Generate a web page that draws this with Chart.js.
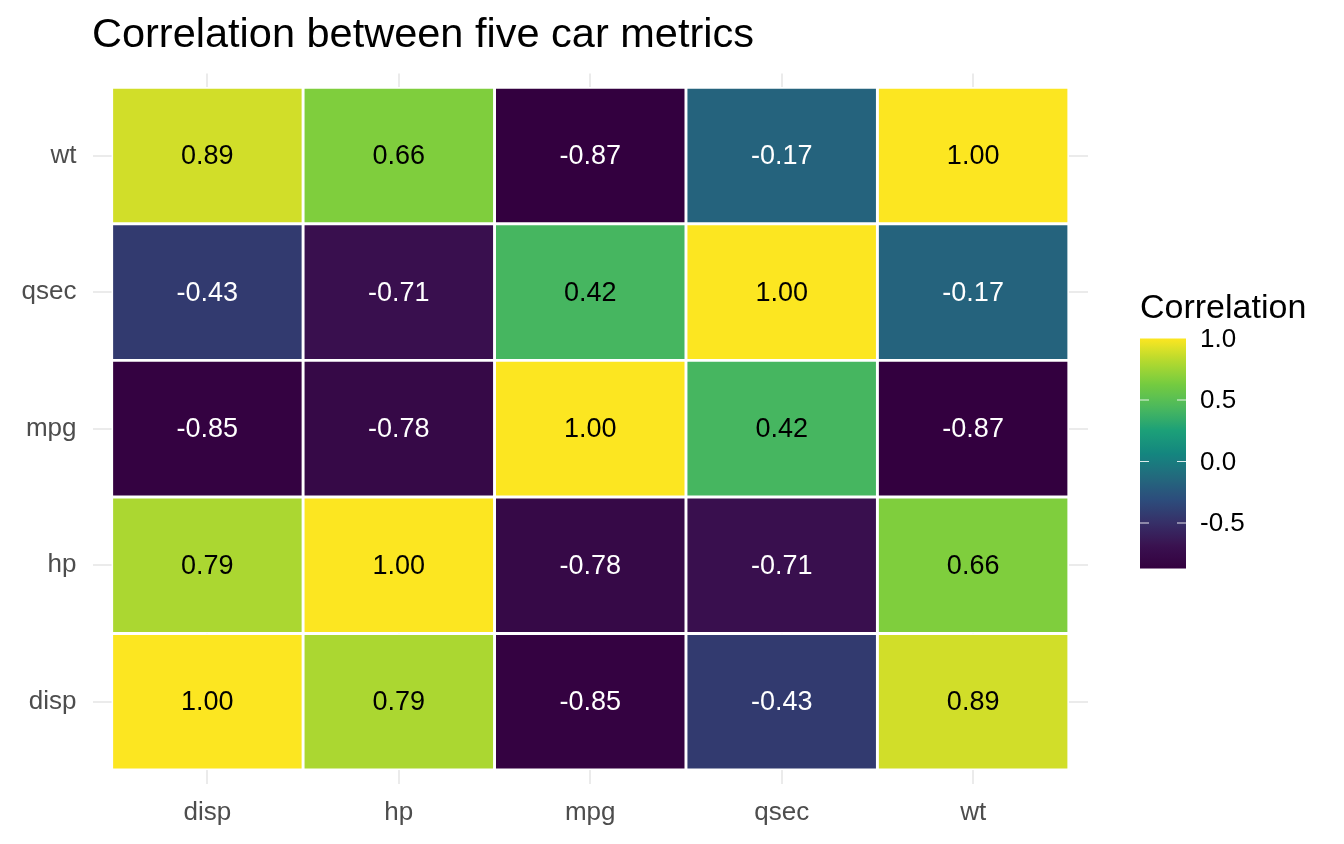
<!DOCTYPE html>
<html>
<head>
<meta charset="utf-8">
<title>Correlation between five car metrics</title>
<script src="https://cdn.jsdelivr.net/npm/chart.js@4.4.1/dist/chart.umd.min.js"></script>
<style>
  html, body { margin: 0; padding: 0; background: #ffffff; }
  #wrap { position: relative; width: 1344px; height: 844px; }
</style>
</head>
<body>
<div id="wrap"><canvas id="heat" width="1344" height="844"></canvas></div>
<script>
// variables, bottom row first (y) and left column first (x)
const metrics = ["disp", "hp", "mpg", "qsec", "wt"];

// correlation of each metric (row) with disp, hp, mpg, qsec, wt (columns)
const corrDisp = [1.00, 0.79, -0.85, -0.43, 0.89];
const corrHp   = [0.79, 1.00, -0.78, -0.71, 0.66];
const corrMpg  = [-0.85, -0.78, 1.00, 0.42, -0.87];
const corrQsec = [-0.43, -0.71, 0.42, 1.00, -0.17];
const corrWt   = [0.89, 0.66, -0.87, -0.17, 1.00];
const corrRows = [corrDisp, corrHp, corrMpg, corrQsec, corrWt];

const legendTicks = [-0.5, 0.0, 0.5, 1.0];

const FONT = "'Liberation Sans', Arial, Helvetica, sans-serif";

// viridis-like palette, as it appears in the picture
const palette = [
  [0.0, "#33003f"], [0.1, "#3a1250"], [0.2, "#363068"], [0.3, "#2c4d7c"],
  [0.4, "#226a7d"], [0.5, "#14867f"], [0.6, "#1ca078"], [0.7, "#4bb85d"],
  [0.8, "#74cb40"], [0.9, "#b3d92f"], [1.0, "#fce621"]
];
const allVals = corrRows.flat();
const cMin = Math.min(...allVals);
const cMax = Math.max(...allVals);

function hexRgb(h) {
  return [parseInt(h.slice(1, 3), 16), parseInt(h.slice(3, 5), 16), parseInt(h.slice(5, 7), 16)];
}
function colorAt(t) {
  t = Math.max(0, Math.min(1, t));
  for (let i = 1; i < palette.length; i++) {
    if (t <= palette[i][0]) {
      const [t0, c0] = palette[i - 1];
      const [t1, c1] = palette[i];
      const f = (t - t0) / (t1 - t0);
      const a = hexRgb(c0), b = hexRgb(c1);
      const m = a.map((v, k) => Math.round(v + (b[k] - v) * f));
      return "rgb(" + m.join(",") + ")";
    }
  }
  return palette[palette.length - 1][1];
}
function colorFor(v) { return colorAt((v - cMin) / (cMax - cMin)); }

const datasets = metrics.map((rowName, ri) => ({
  label: rowName,
  data: metrics.map((colName, ci) => ({ x: ci + 1, y: [ri + 0.5, ri + 1.5], v: corrRows[ri][ci] })),
  backgroundColor: corrRows[ri].map(colorFor),
  borderColor: "#ffffff",
  borderWidth: 1.8,
  borderSkipped: false,
  barPercentage: 1,
  categoryPercentage: 1,
  grouped: false
}));

// cell labels
const cellText = {
  id: "cellText",
  afterDatasetsDraw(chart) {
    const ctx = chart.ctx;
    ctx.save();
    ctx.font = "27px " + FONT;
    ctx.textAlign = "center";
    ctx.textBaseline = "middle";
    chart.data.datasets.forEach((ds, di) => {
      chart.getDatasetMeta(di).data.forEach((el, i) => {
        const v = ds.data[i].v;
        ctx.fillStyle = v < 0 ? "#ffffff" : "#000000";
        ctx.fillText(v.toFixed(2), el.x, (el.y + el.base) / 2 + 1);
      });
    });
    ctx.restore();
  }
};

// title and colour bar legend
const extras = {
  id: "extras",
  afterDraw(chart) {
    const ctx = chart.ctx;
    ctx.save();
    ctx.fillStyle = "#000000";
    ctx.textAlign = "left";
    ctx.textBaseline = "alphabetic";
    ctx.font = "41.5px " + FONT;
    ctx.fillText("Correlation between five car metrics", 92, 47);

    ctx.font = "34px " + FONT;
    ctx.fillText("Correlation", 1140, 318);

    const bx = 1140, bw = 46, pxPerUnit = 123;
    const yOf = v => 338.5 + (cMax - v) * pxPerUnit;
    const top = yOf(cMax), bot = yOf(cMin);
    const g = ctx.createLinearGradient(0, bot, 0, top);
    for (let i = 0; i <= 40; i++) g.addColorStop(i / 40, colorAt(i / 40));
    ctx.fillStyle = g;
    ctx.fillRect(bx, top, bw, bot - top);

    ctx.strokeStyle = "rgba(255,255,255,0.85)";
    ctx.lineWidth = 1.2;
    ctx.font = "26px " + FONT;
    ctx.fillStyle = "#000000";
    ctx.textBaseline = "middle";
    legendTicks.forEach(t => {
      const y = yOf(t);
      if (t < cMax) {
        ctx.beginPath();
        ctx.moveTo(bx, y); ctx.lineTo(bx + 9, y);
        ctx.moveTo(bx + bw - 9, y); ctx.lineTo(bx + bw, y);
        ctx.stroke();
      }
      ctx.fillText(t.toFixed(1), 1200, y + 1);
    });
    ctx.restore();
  }
};

const tickFont = { family: FONT, size: 26 };

new Chart(document.getElementById("heat"), {
  type: "bar",
  data: { datasets: datasets },
  options: {
    responsive: false,
    animation: false,
    events: [],
    layout: { padding: { top: 73.6, right: 256, left: 0, bottom: 0 } },
    plugins: { legend: { display: false }, tooltip: { enabled: false } },
    scales: {
      x: {
        type: "linear",
        min: 0.4,
        max: 5.6,
        offset: false,
        afterBuildTicks: s => { s.ticks = metrics.map((m, i) => ({ value: i + 1 })); },
        afterFit: s => { s.height = 60.3; },
        ticks: {
          callback: v => metrics[v - 1],
          font: tickFont,
          color: "#4d4d4d",
          padding: 14,
          maxRotation: 0,
          autoSkip: false
        },
        grid: { color: "#ebebeb", lineWidth: 2, drawTicks: false, offset: false },
        border: { display: false }
      },
      y: {
        type: "linear",
        min: 0.4,
        max: 5.6,
        afterBuildTicks: s => { s.ticks = metrics.map((m, i) => ({ value: i + 1 })); },
        afterFit: s => { s.width = 92.5; },
        ticks: {
          callback: v => metrics[v - 1],
          font: tickFont,
          color: "#4d4d4d",
          padding: 16,
          autoSkip: false
        },
        grid: { color: "#ebebeb", lineWidth: 2, drawTicks: false, offset: false },
        border: { display: false }
      }
    }
  },
  plugins: [cellText, extras]
});
</script>
</body>
</html>
